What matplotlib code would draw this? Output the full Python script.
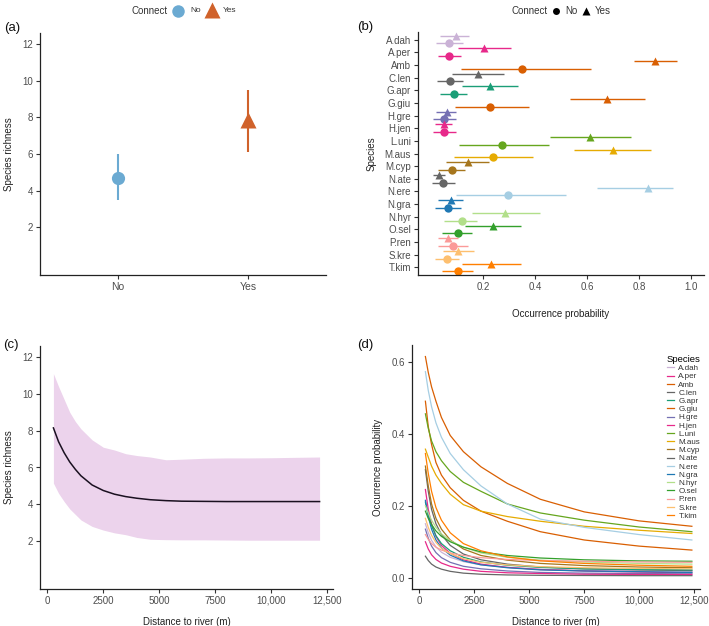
import numpy as np
import matplotlib
matplotlib.use("Agg")
import matplotlib.pyplot as plt
from matplotlib.lines import Line2D

plt.rcParams['font.family'] = ['Liberation Sans', 'DejaVu Sans']

# ---- data ----
# (a) richness by connection
connect = ['No', 'Yes']
rich_mean = [4.7, 7.85]
rich_lo = [3.5, 6.1]
rich_hi = [6.0, 9.5]

# (b) occurrence probability per species
species = ['A.dah', 'A.per', 'Amb', 'C.len', 'G.apr', 'G.giu', 'H.gre', 'H.jen', 'L.uni', 'M.aus',
           'M.cyp', 'N.ate', 'N.ere', 'N.gra', 'N.hyr', 'O.sel', 'P.ren', 'S.kre', 'T.kim']
yes_mean = [0.095, 0.204, 0.862, 0.181, 0.227, 0.677, 0.062, 0.050, 0.613, 0.699,
            0.141, 0.029, 0.836, 0.077, 0.286, 0.238, 0.067, 0.105, 0.232]
yes_lo = [0.033, 0.103, 0.781, 0.079, 0.118, 0.535, 0.021, 0.015, 0.458, 0.550,
          0.056, 0.008, 0.640, 0.027, 0.158, 0.131, 0.026, 0.045, 0.121]
yes_hi = [0.147, 0.306, 0.947, 0.282, 0.336, 0.823, 0.097, 0.081, 0.769, 0.847,
          0.224, 0.053, 0.931, 0.123, 0.418, 0.345, 0.104, 0.164, 0.345]
no_mean = [0.070, 0.070, 0.349, 0.073, 0.088, 0.228, 0.051, 0.050, 0.274, 0.237,
           0.081, 0.045, 0.296, 0.064, 0.118, 0.103, 0.086, 0.062, 0.104]
no_lo = [0.019, 0.026, 0.114, 0.023, 0.036, 0.091, 0.009, 0.008, 0.109, 0.090,
         0.026, 0.005, 0.097, 0.015, 0.051, 0.042, 0.026, 0.015, 0.042]
no_hi = [0.122, 0.115, 0.615, 0.123, 0.138, 0.377, 0.096, 0.097, 0.455, 0.391,
         0.132, 0.091, 0.521, 0.114, 0.178, 0.158, 0.142, 0.108, 0.162]
sp_colors = ['#CAB2D6', '#E7298A', '#D95F02', '#666666', '#1B9E77', '#D95F02', '#7570B3', '#E7298A',
             '#66A61E', '#E6AB02', '#A6761D', '#666666', '#A6CEE3', '#1F78B4', '#B2DF8A', '#33A02C',
             '#FB9A99', '#FDBF6F', '#FF7F00']

# (c) richness vs distance
dist_c = [270, 500, 750, 1000, 1250, 1500, 2000, 2500, 3000, 3500, 4000, 4600, 5300, 6000, 7000, 8000, 9000, 10000, 11000, 12170]
rich_line = [8.15, 7.4, 6.8, 6.3, 5.9, 5.55, 5.05, 4.75, 4.55, 4.42, 4.33, 4.25, 4.2, 4.17, 4.16, 4.15, 4.15, 4.15, 4.15, 4.15]
rich_upper = [11.1, 10.4, 9.7, 9.0, 8.5, 8.1, 7.5, 7.1, 6.95, 6.75, 6.65, 6.57, 6.42, 6.45, 6.5, 6.52, 6.52, 6.53, 6.55, 6.57]
rich_lower = [5.15, 4.6, 4.15, 3.75, 3.45, 3.15, 2.8, 2.6, 2.45, 2.35, 2.2, 2.1, 2.08, 2.07, 2.07, 2.06, 2.05, 2.05, 2.05, 2.05]

# (d) occurrence probability vs distance
dist_d = [270, 400, 550, 750, 1000, 1400, 2000, 2800, 4000, 5500, 7500, 10000, 12400]
occ = {
    'A.dah': [0.150, 0.125, 0.104, 0.086, 0.071, 0.057, 0.045, 0.036, 0.029, 0.024, 0.021, 0.019, 0.018],
    'A.per': [0.245, 0.190, 0.150, 0.115, 0.090, 0.068, 0.050, 0.038, 0.029, 0.023, 0.019, 0.016, 0.014],
    'Amb':   [0.614, 0.570, 0.530, 0.490, 0.445, 0.395, 0.350, 0.308, 0.262, 0.218, 0.183, 0.158, 0.143],
    'C.len': [0.300, 0.240, 0.190, 0.150, 0.120, 0.090, 0.066, 0.050, 0.038, 0.030, 0.025, 0.022, 0.020],
    'G.apr': [0.210, 0.175, 0.145, 0.117, 0.095, 0.075, 0.057, 0.044, 0.035, 0.029, 0.025, 0.023, 0.022],
    'G.giu': [0.490, 0.420, 0.370, 0.320, 0.285, 0.250, 0.215, 0.185, 0.157, 0.128, 0.105, 0.088, 0.077],
    'H.gre': [0.135, 0.110, 0.088, 0.070, 0.056, 0.043, 0.032, 0.025, 0.019, 0.015, 0.013, 0.012, 0.011],
    'H.jen': [0.100, 0.080, 0.064, 0.051, 0.041, 0.032, 0.024, 0.018, 0.014, 0.012, 0.010, 0.0095, 0.009],
    'L.uni': [0.455, 0.415, 0.380, 0.350, 0.325, 0.295, 0.265, 0.240, 0.205, 0.180, 0.160, 0.141, 0.128],
    'M.aus': [0.357, 0.335, 0.310, 0.285, 0.262, 0.232, 0.203, 0.185, 0.170, 0.157, 0.143, 0.132, 0.123],
    'M.cyp': [0.310, 0.255, 0.205, 0.165, 0.135, 0.105, 0.080, 0.062, 0.049, 0.040, 0.034, 0.030, 0.028],
    'N.ate': [0.060, 0.048, 0.038, 0.030, 0.024, 0.018, 0.013, 0.010, 0.008, 0.007, 0.0065, 0.006, 0.006],
    'N.ere': [0.572, 0.520, 0.475, 0.430, 0.390, 0.345, 0.300, 0.255, 0.205, 0.163, 0.140, 0.120, 0.105],
    'N.gra': [0.215, 0.170, 0.135, 0.105, 0.083, 0.063, 0.047, 0.036, 0.028, 0.022, 0.019, 0.017, 0.015],
    'N.hyr': [0.200, 0.180, 0.160, 0.140, 0.122, 0.103, 0.085, 0.069, 0.057, 0.049, 0.044, 0.040, 0.038],
    'O.sel': [0.185, 0.165, 0.148, 0.130, 0.115, 0.100, 0.085, 0.072, 0.062, 0.055, 0.050, 0.047, 0.046],
    'P.ren': [0.120, 0.107, 0.095, 0.085, 0.077, 0.069, 0.062, 0.056, 0.051, 0.048, 0.046, 0.044, 0.043],
    'S.kre': [0.165, 0.140, 0.118, 0.098, 0.082, 0.067, 0.053, 0.043, 0.036, 0.031, 0.028, 0.026, 0.025],
    'T.kim': [0.345, 0.290, 0.240, 0.195, 0.160, 0.125, 0.095, 0.075, 0.058, 0.047, 0.040, 0.035, 0.032],
}

col_no = '#6BAAD2'
col_yes = '#D0622B'
W, H = 709, 626

fig = plt.figure(figsize=(W / 100, H / 100), dpi=100)


def ax_at(l, t, r, b):
    return fig.add_axes([l / W, 1 - b / H, (r - l) / W, (b - t) / H])


def classic(ax):
    for s in ['top', 'right']:
        ax.spines[s].set_visible(False)
    for s in ['left', 'bottom']:
        ax.spines[s].set_linewidth(0.9)
        ax.spines[s].set_color('#222222')
    ax.tick_params(direction='out', length=3, width=0.8, color='#333333',
                   labelsize=7, labelcolor='#4d4d4d', pad=2)


lab = dict(fontsize=7, color='#222222')

# ---- (a) ----
ax = ax_at(40, 33, 326, 275)
classic(ax)
xa = np.arange(len(connect)) + 1
ax.vlines(xa, rich_lo, rich_hi, colors=[col_no, col_yes], lw=1.5)
ax.plot(xa[0], rich_mean[0], 'o', color=col_no, ms=9.5, mec='none')
ax.plot(xa[1], rich_mean[1], '^', color=col_yes, ms=12, mec='none')
ax.set_xlim(0.4, 2.6)
ax.set_ylim(-0.6, 12.6)
ax.set_xticks(xa)
ax.set_xticklabels(connect, fontsize=7.5)
ax.set_yticks([2, 4, 6, 8, 10, 12])
ax.set_ylabel('Species richness', labelpad=6, **lab)

# ---- (b) ----
ax = ax_at(418, 32, 704, 275)
classic(ax)
yb = np.arange(len(species))[::-1]
for i in range(len(species)):
    c = sp_colors[i]
    ax.hlines(yb[i] + 0.3, yes_lo[i], yes_hi[i], color=c, lw=1.0)
    ax.hlines(yb[i] - 0.3, no_lo[i], no_hi[i], color=c, lw=1.0)
    ax.plot(yes_mean[i], yb[i] + 0.3, '^', color=c, ms=6, mec='none')
    ax.plot(no_mean[i], yb[i] - 0.3, 'o', color=c, ms=6, mec='none')
ax.set_xlim(-0.05, 1.05)
ax.set_ylim(-0.6, len(species) - 0.4)
ax.set_yticks(yb)
ax.set_yticklabels(species)
ax.set_xticks([0.2, 0.4, 0.6, 0.8, 1.0])
ax.set_xticklabels(['0.2', '0.4', '0.6', '0.8', '1.0'])
ax.set_xlabel('Occurrence probability', labelpad=12, **lab)
ax.set_ylabel('Species', labelpad=6, **lab)

# ---- (c) ----
ax = ax_at(40, 346, 333, 589)
classic(ax)
ax.fill_between(dist_c, rich_lower, rich_upper, color='#ECD3EC', lw=0)
ax.plot(dist_c, rich_line, color='#1a1020', lw=1.1)
ax.set_xlim(-330, 12770)
ax.set_ylim(-0.6, 12.6)
ax.set_yticks([2, 4, 6, 8, 10, 12])
ax.set_xticks([0, 2500, 5000, 7500, 10000, 12500])
ax.set_xticklabels(['0', '2500', '5000', '7500', '10,000', '12,500'])
ax.set_xlabel('Distance to river (m)', labelpad=8, **lab)
ax.set_ylabel('Species richness', labelpad=6, **lab)

# ---- (d) ----
ax = ax_at(412, 345, 700, 589)
classic(ax)
for i, sp in enumerate(species):
    ax.plot(dist_d, occ[sp], color=sp_colors[i], lw=0.9, label=sp)
ax.set_xlim(-340, 12770)
ax.set_ylim(-0.031, 0.646)
ax.set_yticks([0.0, 0.2, 0.4, 0.6])
ax.set_yticklabels(['0.0', '0.2', '0.4', '0.6'])
ax.set_xticks([0, 2500, 5000, 7500, 10000, 12500])
ax.set_xticklabels(['0', '2500', '5000', '7500', '10,000', '12,500'])
ax.set_xlabel('Distance to river (m)', labelpad=8, **lab)
ax.set_ylabel('Occurrence probability', labelpad=6, **lab)
leg = ax.legend(title='Species', loc='upper left', bbox_to_anchor=(663 / W, 1 - 351 / H),
                bbox_transform=fig.transFigure, frameon=False, fontsize=5.8, title_fontsize=6.8,
                handlelength=0.9, handletextpad=0.5, labelspacing=0.07, borderpad=0,
                alignment='left')
for t in leg.get_texts():
    t.set_color('#333333')

# ---- top legends ----
fig.text(150 / W, 1 - 11 / H, 'Connect', fontsize=7, ha='center', va='center', color='#333333')
fig.add_artist(Line2D([178 / W], [1 - 11 / H], marker='o', color=col_no, ms=9, mec='none',
                      transform=fig.transFigure))
fig.text(190 / W, 1 - 11 / H, 'No', fontsize=6, ha='left', va='center', color='#333333')
fig.add_artist(Line2D([212 / W], [1 - 10 / H], marker='^', color=col_yes, ms=11, mec='none',
                      transform=fig.transFigure))
fig.text(223 / W, 1 - 11 / H, 'Yes', fontsize=6, ha='left', va='center', color='#333333')

fig.text(530 / W, 1 - 11 / H, 'Connect', fontsize=7, ha='center', va='center', color='#333333')
fig.add_artist(Line2D([556 / W], [1 - 11 / H], marker='o', color='black', ms=5, mec='none',
                      transform=fig.transFigure))
fig.text(565 / W, 1 - 11 / H, 'No', fontsize=7, ha='left', va='center', color='#333333')
fig.add_artist(Line2D([586 / W], [1 - 10.5 / H], marker='^', color='black', ms=6, mec='none',
                      transform=fig.transFigure))
fig.text(595 / W, 1 - 11 / H, 'Yes', fontsize=7, ha='left', va='center', color='#333333')

# panel tags
for tag, x, y in [('(a)', 4, 28), ('(b)', 357, 27), ('(c)', 3, 345), ('(d)', 357, 345)]:
    fig.text(x / W, 1 - y / H, tag, fontsize=9.5, ha='left', va='center', color='#111111')

fig.savefig('out.png', dpi=100)
